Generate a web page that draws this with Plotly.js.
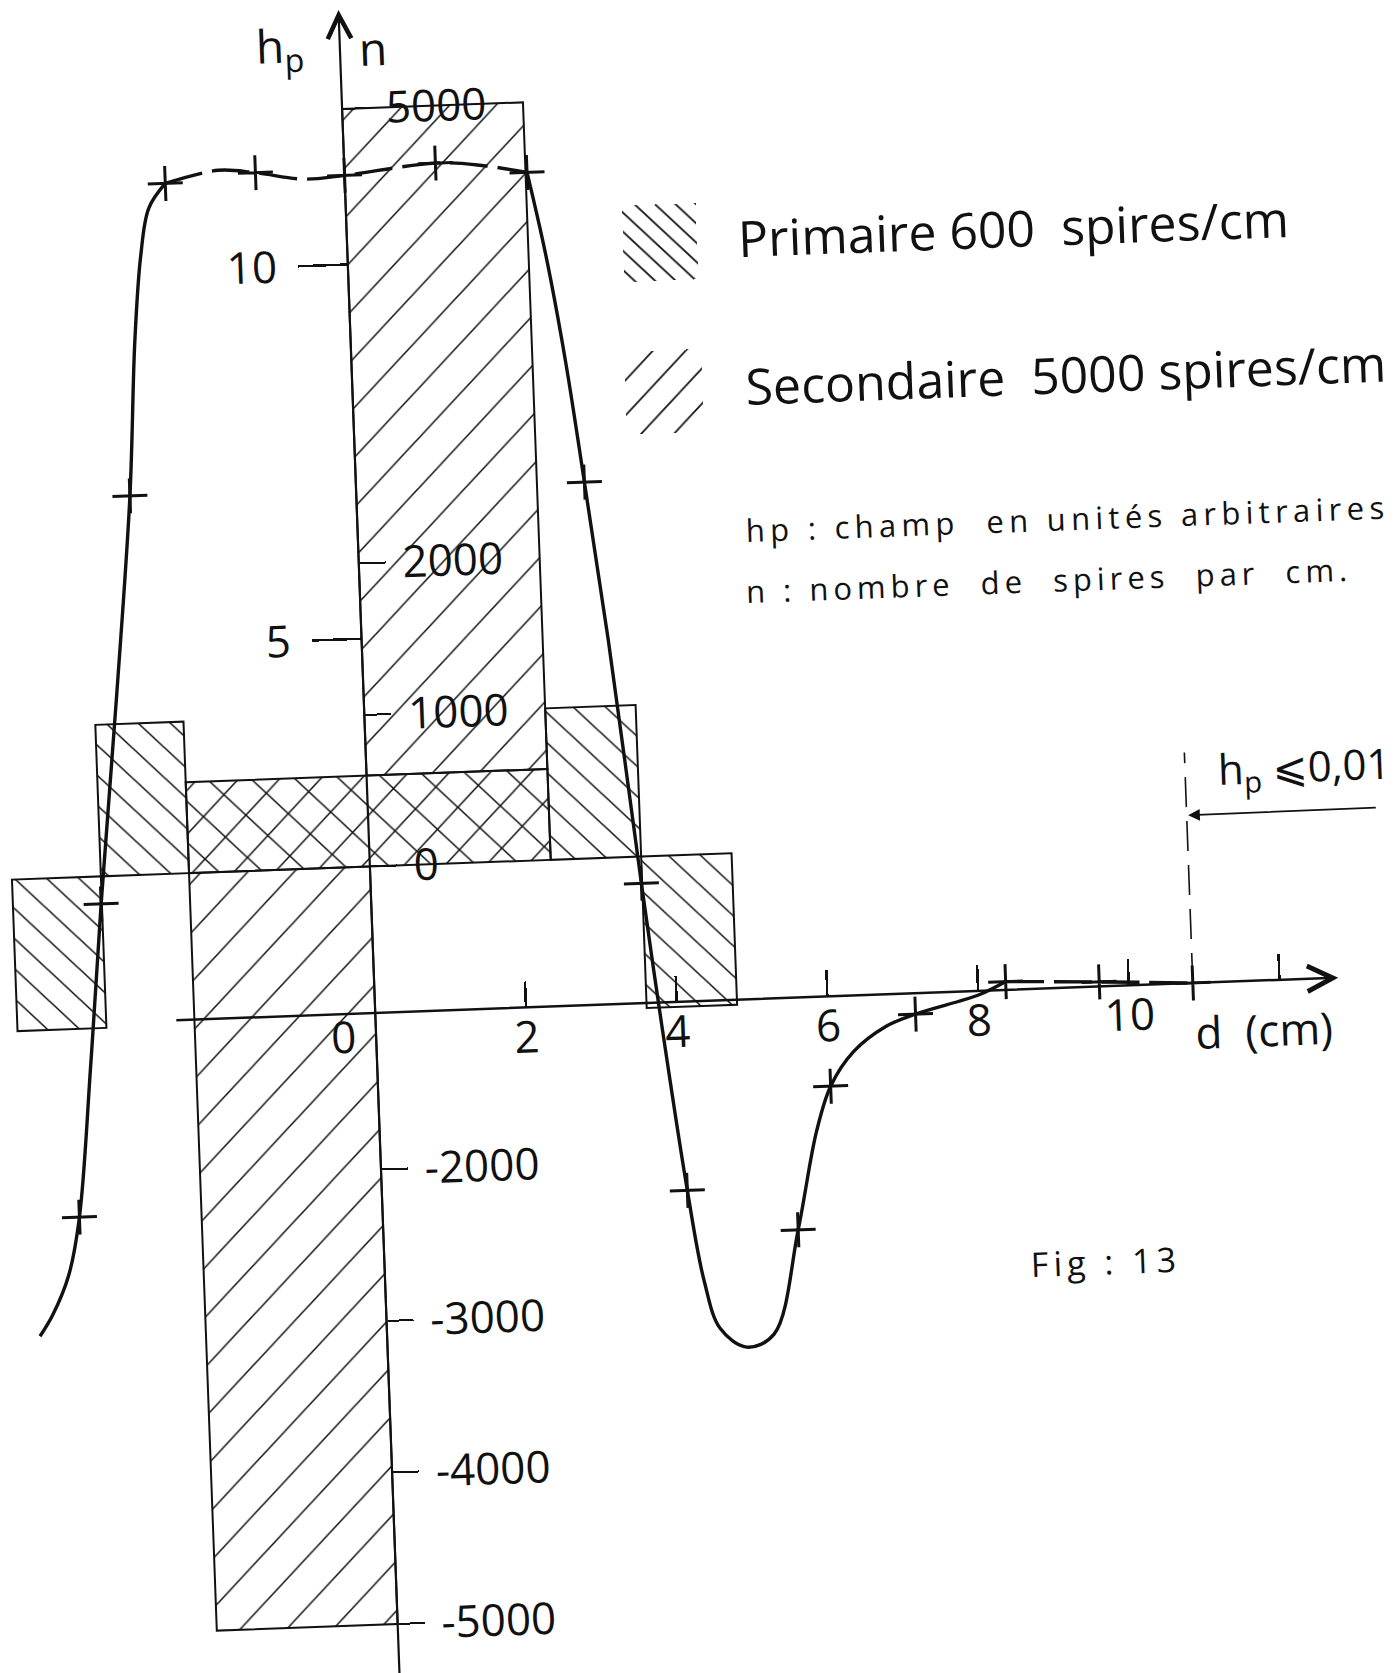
<!DOCTYPE html>
<html>
<head>
<meta charset="utf-8">
<script src="https://cdn.plot.ly/plotly-3.0.1.min.js"></script>
<style>
  html, body { margin: 0; padding: 0; background: #fff; width: 1398px; height: 1673px; overflow: hidden; position: relative; }
  /* the sheet sits slightly turned on the page */
  #fig { position: absolute; left: -50px; top: -50px; width: 1498px; height: 1773px;
         transform: rotate(-2.1deg); transform-origin: 50% 50%; }
</style>
</head>
<body>
<div id="fig"></div>
<script>
// ---- field h_p along the axis, d in cm (points marked with +) ----
const markD  = [-4.02, -3.58, -3.00, -2.38, -1.18, 0.00, 1.21, 2.42, 3.03, 3.59, 4.05, 5.50, 6.00, 7.16, 8.37, 9.61, 10.85];
const markHp = [-2.58, 1.59, 7.02, 11.17, 11.27, 11.19, 11.31, 11.14, 6.98, 1.60, -2.52, -3.10, -1.20, -0.28, 0.11, 0.06, 0.00];

// traced curve, split where the pen changes stroke
const leftD   = [-4.60, -4.42, -4.19, -4.02, -3.80, -3.58, -3.27, -3.00, -2.86, -2.74, -2.61, -2.38];
const leftHp  = [-4.15, -3.87, -3.35, -2.58, -0.59, 1.59, 4.39, 7.02, 9.08, 10.22, 10.85, 11.17];
const plateauD  = [-2.38, -1.67, -1.18, -0.54, 0.00, 1.21, 1.80, 2.42];
const plateauHp = [11.17, 11.32, 11.27, 11.16, 11.19, 11.31, 11.26, 11.14];
const rightD  = [2.42, 2.63, 2.84, 3.03, 3.27, 3.59, 3.79, 4.05, 4.23, 4.42, 4.76, 5.13, 5.50, 5.79, 6.00, 6.32, 6.76, 7.16, 8.02, 8.37];
const rightHp = [11.14, 10.02, 8.59, 6.98, 4.86, 1.60, -0.29, -2.52, -3.74, -4.38, -4.64, -4.48, -3.10, -1.80, -1.20, -0.75, -0.43, -0.28, -0.05, 0.11];
const tailD   = [8.37, 9.61, 10.85];
const tailHp  = [0.11, 0.06, 0.00];

// ---- windings: n (turns per cm) over d ranges ----
const coilKind  = ['primaire', 'primaire', 'mixte', 'primaire', 'primaire', 'secondaire', 'secondaire'];
const coilStart = [-4.75, -3.57, -2.40, 2.40, 3.60, 0.00, -2.40];
const coilEnd   = [-3.57, -2.40, 2.40, 3.60, 4.80, 2.40, 0.00];
const coilLow   = [-1000, 0, 0, 0, -1000, 600, -5000];
const coilHigh  = [0, 1000, 600, 1000, 0, 5000, 0];

// ---- axes ----
const dTicks    = [2, 4, 6, 8, 10, 12];
const dTickText = ['2', '4', '6', '8', '10', ''];
const hpTicks   = [5, 10];
const nTicks    = [5000, 2000, 1000, 0, -2000, -3000, -4000, -5000];
const nTickText = ['5000', '2000', '1000', '0', '-2000', '-3000', '-4000', '-5000'];

// limit beyond which h_p stays below 0,01
const dLimit = 10.85;

const FONT = 'Open Sans, DejaVu Sans, sans-serif';
const INK = '#111';

const hatch = {
  primaire:   { shape: '\\', size: 22, solidity: 0.07 },
  secondaire: { shape: '/',  size: 34, solidity: 0.045 },
  mixte:      { shape: 'x',  size: 30, solidity: 0.1 }
};

const coils = {
  type: 'bar', xaxis: 'x', yaxis: 'y2', hoverinfo: 'skip',
  x: coilStart.map((s, i) => (s + coilEnd[i]) / 2),
  width: coilStart.map((s, i) => coilEnd[i] - s),
  base: coilLow,
  y: coilLow.map((l, i) => coilHigh[i] - l),
  marker: {
    color: INK,
    line: { color: INK, width: 2 },
    pattern: {
      shape: coilKind.map(k => hatch[k].shape),
      size: coilKind.map(k => hatch[k].size),
      solidity: coilKind.map(k => hatch[k].solidity),
      fgcolor: INK
    }
  }
};

// legend swatches (hatching only)
const swatches = {
  type: 'bar', xaxis: 'x', yaxis: 'y', hoverinfo: 'skip',
  x: [4.15, 4.13], width: [0.98, 1.02], base: [9.63, 7.59], y: [1.02, 1.11],
  marker: {
    color: INK, line: { width: 0 },
    pattern: { shape: ['\\', '/'], size: [14, 24], solidity: [0.13, 0.07], fgcolor: INK }
  }
};

function curve(xs, ys, dash) {
  return {
    type: 'scatter', mode: 'lines', x: xs, y: ys, xaxis: 'x', yaxis: 'y', hoverinfo: 'skip',
    line: { color: INK, width: 3.4, shape: 'spline', smoothing: 1, dash: dash }
  };
}

const limitLine = {
  type: 'scatter', mode: 'lines', x: [dLimit, dLimit], y: [0, 3.08], hoverinfo: 'skip',
  line: { color: INK, width: 1.6, dash: '30px,14px' }
};

const marks = {
  type: 'scatter', mode: 'markers', x: markD, y: markHp, hoverinfo: 'skip',
  marker: { symbol: 'cross-thin', size: 25, color: INK, line: { width: 3, color: INK } }
};

const data = [
  coils, swatches,
  curve(leftD, leftHp, 'solid'),
  curve(plateauD, plateauHp, '38px,10px'),
  curve(rightD, rightHp, 'solid'),
  curve(tailD, tailHp, '38px,10px'),
  limitLine, marks
];

function txt(x, y, text, size, opts) {
  return Object.assign({
    x: x, y: y, xref: 'x', yref: 'y', text: text, showarrow: false,
    font: { family: FONT, size: size, color: INK }
  }, opts || {});
}

const annotations = [
  // axes with open arrowheads
  { x: 12.78, y: 0, ax: -2.66, ay: 0, xref: 'x', yref: 'y', axref: 'x', ayref: 'y', text: '',
    showarrow: true, arrowhead: 5, arrowsize: 2.0, arrowwidth: 2.5, arrowcolor: INK, standoff: 0 },
  { x: 0, y: 13.40, ax: 0, ay: -9.6, xref: 'x', yref: 'y', axref: 'x', ayref: 'y', text: '',
    showarrow: true, arrowhead: 5, arrowsize: 2.1, arrowwidth: 2.2, arrowcolor: INK, standoff: 0 },
  // limit arrow
  { x: dLimit + 0.02, y: 2.24, ax: 13.38, ay: 2.25, xref: 'x', yref: 'y', axref: 'x', ayref: 'y', text: '',
    showarrow: true, arrowhead: 2, arrowsize: 1.3, arrowwidth: 1.8, arrowcolor: INK, standoff: 0 },

  txt(-0.79, 12.93, 'h<sub>p</sub>', 46),
  txt(0.44, 12.88, 'n', 46),
  txt(-0.43, -0.30, '0', 44),
  txt(11.78, -0.66, 'd  (cm)', 44),
  txt(12.43, 2.81, 'h<sub>p</sub> ⩽0,01', 42),

  txt(5.16, 10.16, 'Primaire 600  spires/cm', 50, { xanchor: 'left' }),
  txt(5.19, 8.19, 'Secondaire  5000 spires/cm', 50, { xanchor: 'left' }),
  txt(5.12, 6.26, '<span style="letter-spacing:5.3px">hp : champ  en unités arbitraires</span>', 31, { xanchor: 'left' }),
  txt(5.09, 5.45, '<span style="letter-spacing:5px">n : nombre  de  spires  par  cm.</span>', 31, { xanchor: 'left' }),
  txt(9.56, -3.67, '<span style="letter-spacing:5px">Fig : 13</span>', 34)
];

const layout = {
  width: 1498, height: 1773,
  margin: { l: 0, r: 0, t: 0, b: 0, pad: 0 },
  paper_bgcolor: '#fff', plot_bgcolor: 'rgba(0,0,0,0)',
  showlegend: false, barmode: 'overlay', bargap: 0,
  font: { family: FONT, color: INK },
  xaxis: {
    range: [-5.557, 14.310], domain: [0, 1], anchor: 'free', position: 0.4072,
    showline: false, showgrid: false, zeroline: false, fixedrange: true,
    tickmode: 'array', tickvals: dTicks, ticktext: dTickText,
    ticks: 'inside', ticklen: 26, tickwidth: 2.5, tickcolor: INK,
    tickfont: { family: FONT, size: 44, color: INK }, ticklabelstandoff: 0
  },
  yaxis: {
    range: [-9.640, 14.032], domain: [0, 1], anchor: 'free', position: 0.2797,
    showline: false, showgrid: false, zeroline: false, fixedrange: true,
    tickmode: 'array', tickvals: hpTicks, ticktext: hpTicks.map(String),
    ticks: 'outside', ticklen: 50, tickwidth: 2.5, tickcolor: INK,
    tickfont: { family: FONT, size: 44, color: INK }, ticklabelstandoff: 12
  },
  yaxis2: {
    range: [-5729.6, 5965.7], overlaying: 'y', anchor: 'free', position: 0.2797, side: 'right',
    showline: false, showgrid: false, zeroline: false, fixedrange: true,
    tickmode: 'array', tickvals: nTicks, ticktext: nTickText,
    ticks: 'outside', ticklen: 26, tickwidth: 2, tickcolor: INK,
    tickfont: { family: FONT, size: 44, color: INK }, ticklabelstandoff: 8
  },
  annotations: annotations
};

Plotly.newPlot('fig', data, layout, { displayModeBar: false, staticPlot: true });
</script>
</body>
</html>
